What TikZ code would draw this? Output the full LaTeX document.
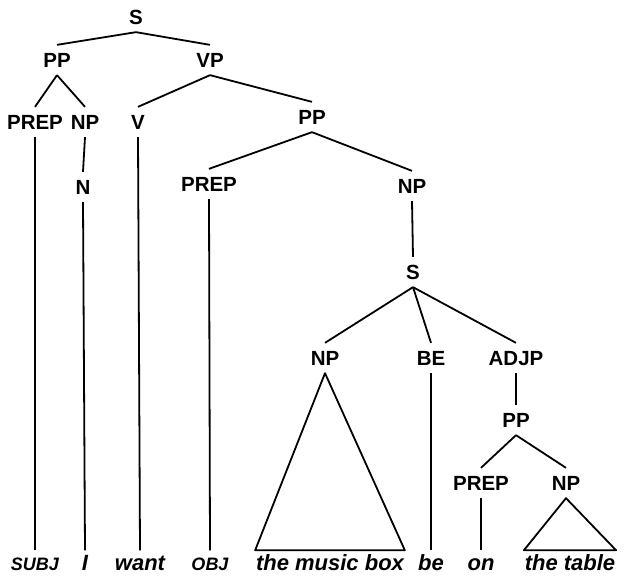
\documentclass[tikz,border=0pt]{standalone}
\usepackage{fontspec}
\setmainfont{Liberation Sans}
\tikzset{
  cat/.style={font=\bfseries\fontsize{20.5}{20.5}\selectfont, inner xsep=0pt, inner ysep=7pt, text height=14.5pt, text depth=0pt},
  word/.style={font=\bfseries\itshape\fontsize{22}{22}\selectfont, anchor=base, inner xsep=0pt, inner ysep=3pt, text height=15.8pt, text depth=0pt},
  gapword/.style={word, font=\bfseries\itshape\fontsize{18}{18}\selectfont}
}
\begin{document}
\begin{tikzpicture}[x=1pt, y=-1pt, line width=1.8pt]
    \useasboundingbox (0,0) rectangle (624,584);

    % Upper part of the tree
    \node[cat] (s) at (136,17) {S};
    \node[cat] (pp) at (57,60) {PP};
    \node[cat] (vp) at (210,60) {VP};
    \node[cat] (prepa) at (35,122) {PREP};
    \node[cat] (npa) at (85,122) {NP};
    \node[cat] (v) at (138,122) {V};
    \node[cat] (ppb) at (312,117) {PP};
    \node[cat] (n) at (83,187) {N};
    \node[cat] (prepb) at (209,184) {PREP};
    \node[cat] (npb) at (412,186) {NP};

    % Embedded sentence
    \node[cat] (sb) at (413,272) {S};
    \node[cat] (npc) at (325,358) {NP};
    \node[cat] (be) at (431,358) {BE};
    \node[cat] (adjp) at (516,358) {ADJP};
    \node[cat] (ppc) at (516,420) {PP};
    \node[cat] (prepc) at (481,483) {PREP};
    \node[cat] (npd) at (566,483) {NP};

    % Words along the bottom
    \node[gapword] (subj) at (35,570) {SUBJ};
    \node[word] (i) at (85,570) {I};
    \node[word] (want) at (140,570) {want};
    \node[gapword] (obj) at (210,570) {OBJ};
    \node[word] (box) at (330,570) {the music box};
    \node[word] (bew) at (431,570) {be};
    \node[word] (on) at (481,570) {on};
    \node[word] (table) at (570,570) {the table};

    % Branches
    \draw (s.south) -- (pp.north);
    \draw (s.south) -- (vp.north);
    \draw (pp.south) -- (prepa.north);
    \draw (pp.south) -- (npa.north);
    \draw (vp.south) -- (v.north);
    \draw (vp.south) -- (ppb.north);
    \draw (npa.south) -- (n.north);
    \draw (ppb.south) -- (prepb.north);
    \draw (ppb.south) -- (npb.north);
    \draw (npb.south) -- (sb.north);
    \draw (sb.south) -- (npc.north);
    \draw (sb.south) -- (be.north);
    \draw (sb.south) -- (adjp.north);
    \draw (adjp.south) -- (ppc.north);
    \draw (ppc.south) -- (prepc.north);
    \draw (ppc.south) -- (npd.north);

    % Lines down to the words
    \draw (prepa.south) -- (subj.north);
    \draw (n.south) -- (i.north);
    \draw (v.south) -- (want.north);
    \draw (prepb.south) -- (obj.north);
    \draw (be.south) -- (bew.north);
    \draw (prepc.south) -- (on.north);

    % Triangles over the noun phrases
    \draw[line join=round] (npc.south) -- (box.north west) -- (box.north east) -- cycle;
    \draw[line join=round] (npd.south) -- (table.north west) -- (table.north east) -- cycle;
\end{tikzpicture}
\end{document}
